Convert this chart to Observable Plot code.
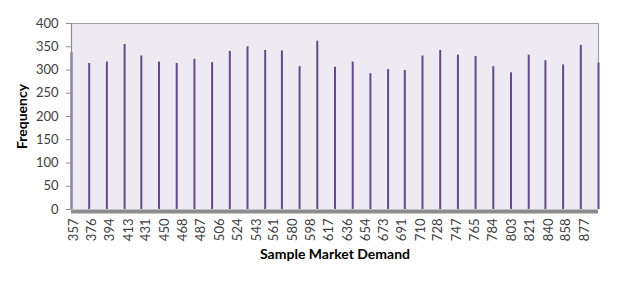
<!DOCTYPE html>
<html>
<head>
<meta charset="utf-8">
<script src="https://cdn.jsdelivr.net/npm/d3@7"></script>
<script src="https://cdn.jsdelivr.net/npm/@observablehq/plot@0.6"></script>
<style>
  html, body { margin: 0; padding: 0; background: #ffffff; }
  #chart svg { display: block; }
</style>
</head>
<body>
<div id="chart"></div>
<script>
// Bar positions (sample market demand) and frequencies
const demand = [355, 373, 391, 409, 426, 444, 462, 480, 498, 516, 534, 552, 569, 587, 605, 623,
                641, 659, 677, 694, 712, 730, 748, 766, 784, 802, 820, 837, 855, 873, 891];
const frequency = [337, 314, 317, 355, 330, 317, 314, 323, 316, 340, 350, 342, 341, 307, 362, 306,
                   317, 292, 301, 299, 330, 342, 332, 329, 307, 294, 332, 320, 311, 353, 315];
const xTickLabels = [357, 376, 394, 413, 431, 450, 468, 487, 506, 524, 543, 561, 580, 598, 617, 636,
                     654, 673, 691, 710, 728, 747, 765, 784, 803, 821, 840, 858, 877];
const yTicks = [0, 50, 100, 150, 200, 250, 300, 350, 400];

const rows = demand.map((d, i) => ({demand: d, frequency: frequency[i]}));

const chart = Plot.plot({
  width: 626,
  height: 290,
  marginLeft: 71,
  marginRight: 28,
  marginTop: 23,
  marginBottom: 81,
  style: {fontFamily: "Lato, 'Open Sans', sans-serif", fontSize: "13px", color: "#404040", background: "#ffffff"},
  x: {domain: [355, 891]},
  y: {domain: [0, 400]},
  marks: [
    Plot.frame({fill: "#EDEAF1", stroke: null}),
    Plot.ruleY([400], {stroke: "#A0A0A0", strokeWidth: 1.2}),
    Plot.ruleX([891], {stroke: "#A0A0A0", strokeWidth: 1.2}),
    Plot.ruleX(rows, {x: "demand", y1: 0, y2: "frequency", stroke: "#634A8E", strokeWidth: 2}),
    Plot.ruleX([355], {stroke: "#8C8C8C", strokeWidth: 1.2}),
    Plot.ruleY([0], {stroke: "#8C8C8C", strokeWidth: 4, dy: 2}),
    Plot.axisY({ticks: yTicks, tickSize: 5, tickPadding: 8, stroke: "#8C8C8C",
                label: "Frequency", labelAnchor: "center", labelArrow: "none", labelOffset: 54,
                fill: "#404040"}),
    Plot.axisX({ticks: xTickLabels, tickFormat: d => String(d), tickSize: 0, tickPadding: 9,
                tickRotate: -90, label: "Sample Market Demand", labelAnchor: "center",
                labelArrow: "none", labelOffset: 49, fill: "#404040"})
  ]
});

const svg = d3.select(chart);
svg.selectAll("[aria-label='y-axis label'] text, [aria-label='x-axis label'] text")
  .attr("font-weight", "bold").attr("fill", "#000").attr("font-size", "14px");

document.getElementById("chart").append(chart);
</script>
</body>
</html>
